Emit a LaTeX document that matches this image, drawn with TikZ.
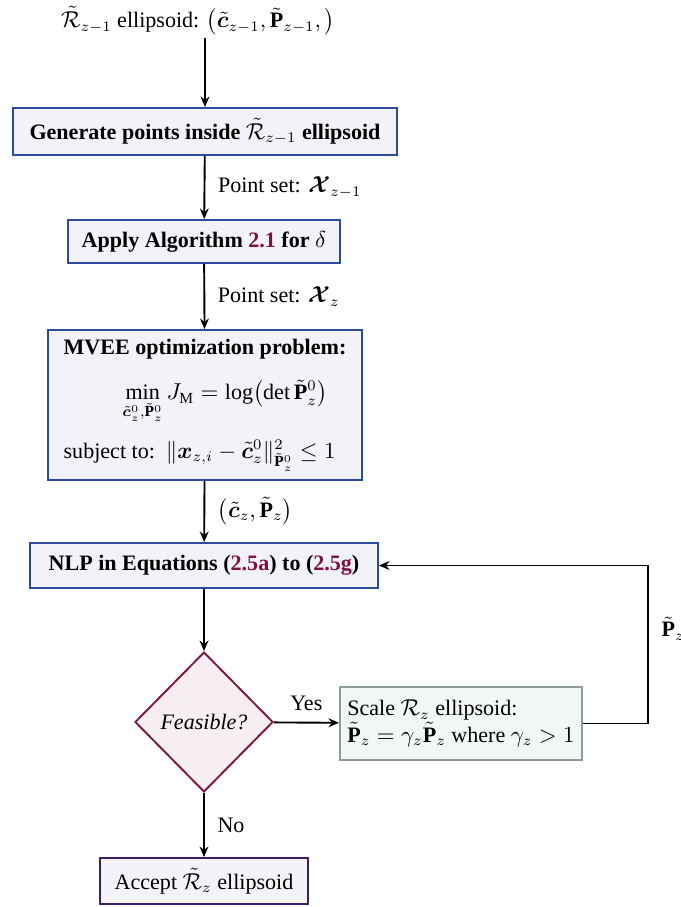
\documentclass[tikz,border=0pt]{standalone}
\usepackage{amsmath,amssymb,bm}
\usepackage{fontspec}
\setmainfont{Liberation Serif}
\usetikzlibrary{shapes.geometric,arrows.meta}

\definecolor{procline}{RGB}{43,75,155}
\definecolor{procfill}{RGB}{242,243,248}
\definecolor{decline}{RGB}{125,20,70}
\definecolor{decfill}{RGB}{247,238,241}
\definecolor{scaleline}{RGB}{140,155,155}
\definecolor{scalefill}{RGB}{243,246,246}
\definecolor{endline}{RGB}{60,30,105}
\definecolor{endfill}{RGB}{243,243,248}
\definecolor{reflink}{RGB}{128,16,64}

\newcommand{\reftag}[1]{\textcolor{reflink}{#1}}

\tikzset{
  procbox/.style={draw=procline, fill=procfill, line width=0.9pt, inner sep=0pt},
  decbox/.style={diamond, draw=decline, fill=decfill, line width=0.9pt, inner sep=0pt},
  scalebox/.style={draw=scaleline, fill=scalefill, line width=0.9pt, inner sep=0pt},
  endbox/.style={draw=endline, fill=endfill, line width=0.9pt, inner sep=0pt},
  flow/.style={line width=0.9pt, -{Stealth[length=5pt,width=4.2pt]}},
  lbl/.style={inner sep=0pt}
}

\begin{document}
\begin{tikzpicture}[x=0.476pt, y=-0.476pt, font=\fontsize{10.5}{12.6}\selectfont]
\useasboundingbox (0,0) rectangle (681,907);

% input ellipsoid
\node[lbl] (start) at (198,21)
  {$\tilde{\mathcal{R}}_{z-1}$ ellipsoid: $\bigl(\tilde{\bm{c}}_{z-1},\tilde{\mathbf{P}}_{z-1},\bigr)$};
\coordinate (starttail) at (205,38);

% process steps
\node[procbox, minimum width=182.8pt, minimum height=22.4pt] (gen) at (205,131.5)
  {\textbf{Generate points inside $\tilde{\mathcal{R}}_{z-1}$ ellipsoid}};

\node[procbox, minimum width=129.5pt, minimum height=20.5pt] (alg) at (204,241.5)
  {\textbf{Apply Algorithm \reftag{2.1} for} $\delta$};

\node[procbox, minimum width=149.5pt, minimum height=71.4pt, align=left] (mvee) at (205,405)
  {\textbf{MVEE optimization problem:}\\[9pt]
   \hspace{28pt}$\displaystyle\min_{\tilde{\bm{c}}^0_z,\tilde{\mathbf{P}}^0_z} J_{\mathrm{M}} = \log\bigl(\det\tilde{\mathbf{P}}^0_z\bigr)$\\[7pt]
   subject to:\ \ $\lVert\bm{x}_{z,i}-\tilde{\bm{c}}^0_z\rVert^2_{\tilde{\mathbf{P}}^0_z}\le 1$};

\node[procbox, minimum width=165.6pt, minimum height=21.4pt] (nlp) at (204,565.5)
  {\textbf{NLP in Equations (\reftag{2.5a}) to (\reftag{2.5g})}};

% feasibility test
\node[decbox, minimum width=65.7pt, minimum height=66.6pt] (feas) at (204,722)
  {\textit{Feasible?}};

\node[scalebox, minimum width=115.2pt, minimum height=34.7pt, align=left] (scale) at (461,723.5)
  {Scale $\mathcal{R}_z$ ellipsoid:\\
   $\tilde{\mathbf{P}}_z=\gamma_z\tilde{\mathbf{P}}_z$ where $\gamma_z>1$};

\node[endbox, minimum width=99pt, minimum height=21.9pt] (accept) at (204,881)
  {Accept $\tilde{\mathcal{R}}_z$ ellipsoid};

\coordinate (loop) at (648,0);

% connectors
\draw[flow] (starttail) -- (gen.north);
\draw[flow] (gen) -- node[lbl, right=6pt] {Point set: $\bm{\mathcal{X}}_{z-1}$} (alg);
\draw[flow] (alg) -- node[lbl, right=6pt] {Point set: $\bm{\mathcal{X}}_{z}$} (mvee);
\draw[flow] (mvee) -- node[lbl, right=6pt] {$\bigl(\tilde{\bm{c}}_z,\tilde{\mathbf{P}}_z\bigr)$} (nlp);
\draw[flow] (nlp) -- (feas);
\draw[flow] (feas) -- node[lbl, above=5pt] {Yes} (scale);
\draw[flow] (feas) -- node[lbl, right=6pt] {No} (accept);
\draw[flow] (scale.east) -- (scale.east -| loop) |- node[pos=0.3, lbl, right=6pt] {$\tilde{\mathbf{P}}_z$} (nlp.east);
\end{tikzpicture}
\end{document}
